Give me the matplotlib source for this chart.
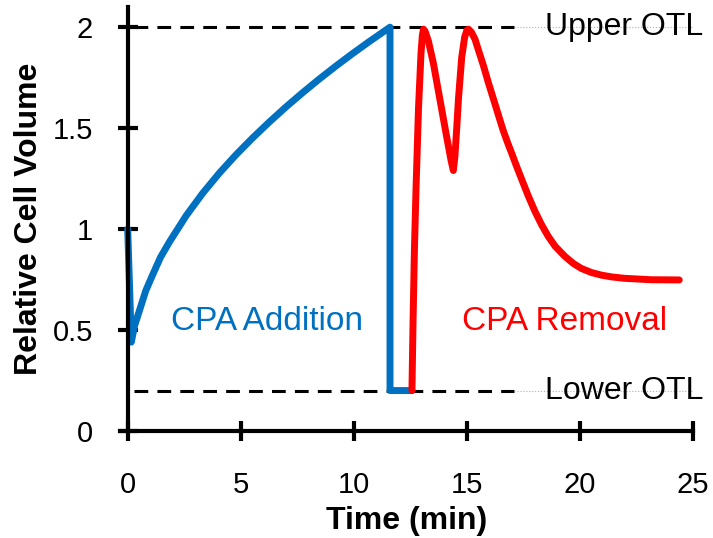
import matplotlib.pyplot as plt

plt.rcParams['font.family'] = ['Liberation Sans', 'DejaVu Sans']

# cell volume during CPA addition (blue) and removal (red)
t_add = [0, 0.16, 0.3, 0.53, 0.8, 1.11, 1.45, 1.85, 2.59, 3.32, 4.05, 4.79,
         5.52, 6.26, 6.99, 7.73, 8.46, 9.19, 9.93, 10.66, 11.6, 11.6, 12.57]
v_add = [1.0, 0.44, 0.52, 0.6, 0.695, 0.775, 0.86, 0.937, 1.067, 1.178, 1.277,
         1.368, 1.451, 1.53, 1.604, 1.675, 1.742, 1.806, 1.868, 1.927, 2.0, 0.2,
         0.2]

t_rem = [12.57, 12.62, 12.68, 12.75, 12.86, 12.97, 13.03, 13.08, 13.15, 13.3,
         13.52, 13.81, 14.1, 14.3, 14.4, 14.47, 14.55, 14.63, 14.77, 14.9, 15.0,
         15.07, 15.2, 15.36, 15.5, 15.73, 15.95, 16.2, 16.4, 16.6, 16.8, 17.0,
         17.2, 17.41, 17.7, 18.0, 18.3, 18.59, 18.9, 19.33, 19.7, 20.06, 20.5,
         20.94, 21.4, 21.97, 23.15, 24.39]
v_rem = [0.2, 0.55, 0.9, 1.2, 1.6, 1.87, 1.96, 1.99, 1.98, 1.93, 1.82, 1.64,
         1.46, 1.34, 1.29, 1.36, 1.5, 1.65, 1.85, 1.95, 1.985, 1.99, 1.975, 1.94,
         1.89, 1.81, 1.725, 1.635, 1.562, 1.49, 1.428, 1.37, 1.31, 1.25, 1.168,
         1.09, 1.022, 0.965, 0.915, 0.865, 0.83, 0.805, 0.785, 0.772, 0.763,
         0.756, 0.749, 0.748]

upper_otl = 2.0
lower_otl = 0.2
xticks = [0, 5, 10, 15, 20, 25]
yticks = [0, 0.5, 1, 1.5, 2]
yticklabels = ['0', '0.5', '1', '1.5', '2']

fig = plt.figure(figsize=(7.13, 5.38), dpi=100)
ax = fig.add_axes([0.168, 0.199, 0.804, 0.788])

# tolerance limits
for yv in (upper_otl, lower_otl):
    ax.plot([0.3, 17.1], [yv, yv], color='black', lw=2.2, dashes=(4.5, 3))
    ax.plot([17.1, 25], [yv, yv], color='#b0b0b0', lw=0.8, ls=':', clip_on=False)
ax.text(18.45, upper_otl, 'Upper OTL', fontsize=23, va='center', ha='left')
ax.text(18.45, lower_otl, 'Lower OTL', fontsize=23, va='center', ha='left')

ax.plot(t_add, v_add, color='#0070C0', lw=5, solid_joinstyle='round',
        solid_capstyle='round')
ax.plot(t_rem, v_rem, color='#FF0000', lw=5, solid_joinstyle='round',
        solid_capstyle='round')

ax.text(1.9, 0.54, 'CPA Addition', color='#0070C0', fontsize=24, va='center')
ax.text(14.8, 0.54, 'CPA Removal', color='#FF0000', fontsize=24, va='center')

ax.set_xlim(-0.35, 25)
ax.set_ylim(0, 2.1)
ax.set_xticks(xticks)
ax.set_yticks(yticks)
ax.set_yticklabels(yticklabels)
ax.spines['top'].set_visible(False)
ax.spines['right'].set_visible(False)
ax.spines['left'].set_position(('data', 0))
for s in ('left', 'bottom'):
    ax.spines[s].set_linewidth(3)
ax.tick_params(direction='inout', length=14, width=3, labelsize=21)
ax.tick_params(axis='x', pad=22)
ax.tick_params(axis='y', pad=18)

ax.set_xlabel('Time (min)', fontsize=23, fontweight='bold', labelpad=5)
ax.set_ylabel('Relative Cell Volume', fontsize=23, fontweight='bold', labelpad=6)

fig.savefig('out.png', dpi=100)
